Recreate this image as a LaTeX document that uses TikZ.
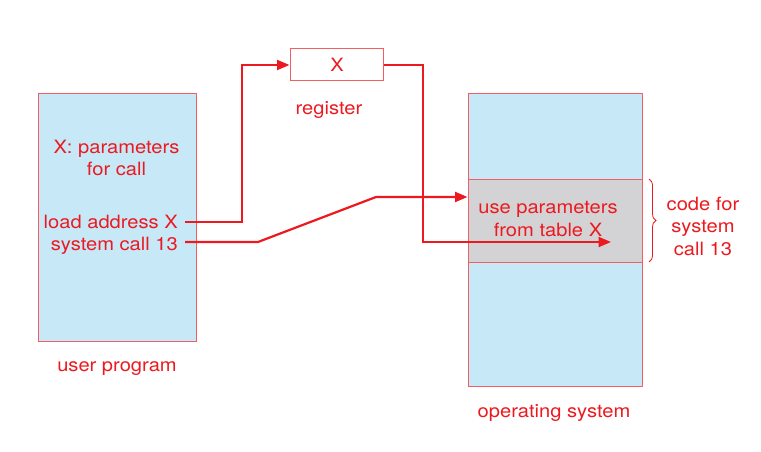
\documentclass[tikz,border=0pt]{standalone}
\usepackage{fontspec}
\setmainfont{TeX Gyre Heros}[FakeStretch=1.1]
\usetikzlibrary{arrows.meta,decorations.pathreplacing}
\definecolor{myred}{RGB}{236,26,32}
\definecolor{myblue}{RGB}{198,232,247}
\definecolor{mygray}{RGB}{211,211,213}
\begin{document}
\begin{tikzpicture}[x=1pt,y=-1pt,
  lbl/.style={text=myred,font=\fontsize{18.3}{22.5}\selectfont,inner sep=0pt,align=center},
  boxline/.style={draw=myred!70,line width=1pt},
  conn/.style={draw=myred,line width=2.2pt},
  arr/.style={conn,-{Triangle[length=12.5pt,width=10pt]}}]
\useasboundingbox (0,0) rectangle (761,452);
\fill[white] (0,0) rectangle (761,452);
% user program
\node[boxline,fill=myblue,minimum width=158pt,minimum height=247pt,inner sep=0pt] (up) at (117,217.5) {};
\node[lbl] (xp) at (116.5,158) {X: parameters\\for call};
\node[lbl,anchor=base east] (la) at (178,228) {load address X};
\node[lbl,anchor=base east] (sc) at (178,250) {system call 13};
\node[lbl] (upl) at (117,369) {user program};
% register
\node[boxline,fill=white,minimum width=93pt,minimum height=32pt,inner sep=0pt] (reg) at (336.5,65) {};
\node[lbl] (regx) at (337,65) {X};
\node[lbl] (regl) at (329,110) {register};
% operating system
\node[boxline,fill=myblue,minimum width=174pt,minimum height=292pt,inner sep=0pt] (os) at (555,240) {};
\node[boxline,fill=mygray,minimum width=174pt,minimum height=83pt,inner sep=0pt] (code) at (555,220.5) {};
\node[lbl] (use) at (548,219) {use parameters\\from table X};
\node[lbl] (osl) at (554,413) {operating system};
\draw[myred,line width=0.8pt,decorate,decoration={brace,amplitude=7pt}] (649,179) -- (649,262) coordinate[midway] (bm);
\node[lbl] (cf) at (703,226) {code for\\system\\call 13};
% connectors
\coordinate (a1) at (185,222);
\coordinate (a2) at (185,242);
\coordinate (tgt) at (611,242);
\draw[arr] (a1) -- (242,222) -- (242,65) -- (reg.west);
\draw[arr] (reg.east) -- (423,65) -- (423,242) -- (tgt);
\draw[arr] (a2) -- (258,242) -- (376,197) -- (code.west |- 0,197);
\end{tikzpicture}
\end{document}
